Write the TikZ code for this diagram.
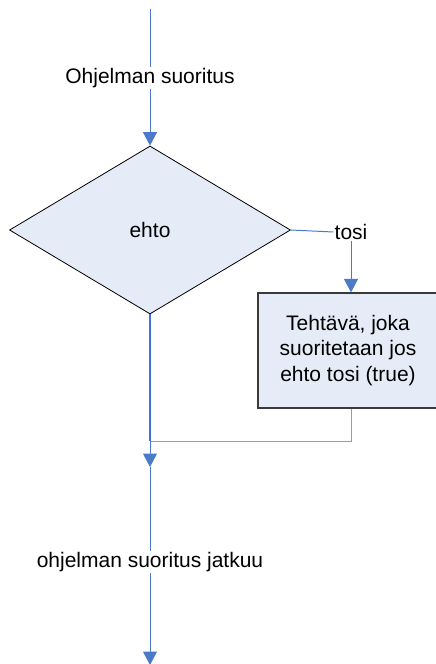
\documentclass[tikz,border=0pt]{standalone}
\usepackage{fontspec}
\setmainfont{Liberation Sans}
\usetikzlibrary{arrows.meta,shapes.geometric}
\definecolor{flowblue}{HTML}{4A7AC8}
\definecolor{brightblue}{HTML}{3D72E0}
\definecolor{joinblue}{HTML}{7D9FDB}
\definecolor{shapefill}{HTML}{E6ECF7}
\definecolor{boxedge}{HTML}{3A3A3A}
\begin{document}
\begin{tikzpicture}[x=1pt,y=-1pt,
  txt/.style={font=\fontsize{21}{25.5}\selectfont, text=black},
  flow/.style={draw=flowblue, line width=1pt},
  arr/.style={flow, -{Triangle[width=14pt,length=13.5pt]}},
  label/.style={txt, inner sep=1.5pt},
  decision/.style={diamond, draw=black, line width=0.8pt, fill=shapefill,
    minimum width=281pt, minimum height=168pt, inner sep=0pt, txt},
  taskbox/.style={rectangle, draw=boxedge, line width=1.2pt, fill=shapefill,
    minimum width=180pt, minimum height=115pt, inner sep=0pt, align=center, txt}]
\useasboundingbox (0,0) rectangle (436,664);
\clip (0,0) rectangle (436,664);

% program entry and condition
\coordinate (start) at (150,9);
\node[label] (lbl1) at (150,78) {Ohjelman suoritus};
\node[decision] (cond) at (150,230) {ehto};

% true branch
\node[label, inner sep=1pt] (tosi) at (351,232) {tosi};
\node[taskbox] (task) at (348,350.5) {Tehtävä, joka\\suoritetaan jos\\ehto tosi (true)};

% merge point and continuation
\coordinate (join) at (150,441);
\coordinate (mid) at (150,467);
\node[label] (lbl2) at (150,562) {ohjelman suoritus jatkuu};
\coordinate (finish) at (150,665);

\draw[flow] (start) -- (lbl1.north);
\draw[arr] (lbl1.south) -- (cond.north);
\draw[flow] (cond.east) -- (tosi.west);
\draw[arr] (tosi.south) -- (tosi.south |- task.north);
\draw[draw=joinblue, line width=1pt] (tosi.south |- task.south) |- (join);
\draw[draw=brightblue, line width=1.8pt] (cond.south) -- (join);
\draw[arr] (join) -- (mid);
\draw[flow] (mid) -- (lbl2.north);
\draw[arr] (lbl2.south) -- (finish);
\end{tikzpicture}
\end{document}
